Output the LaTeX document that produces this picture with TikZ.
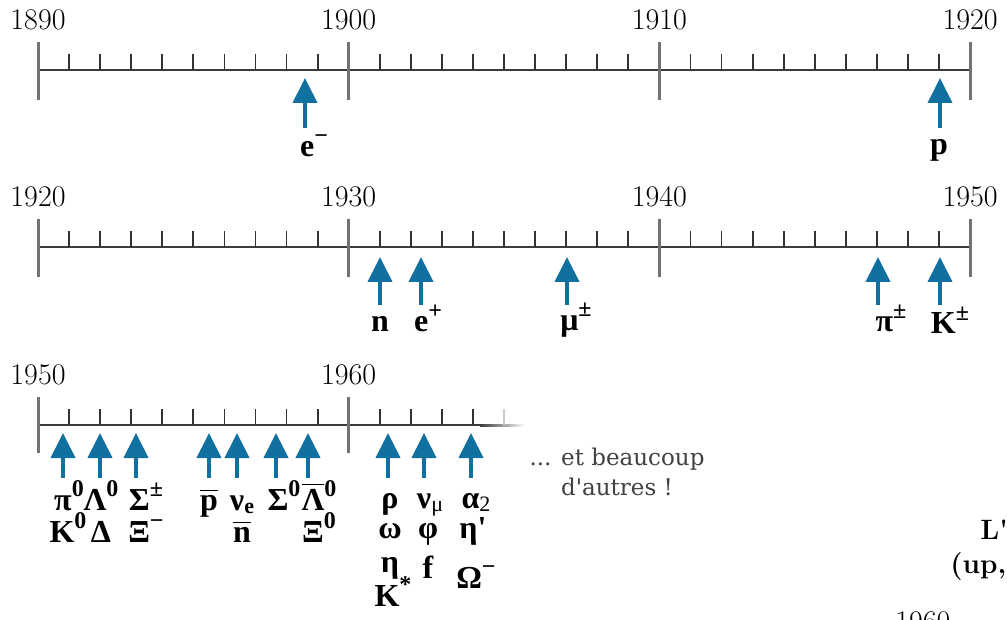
\documentclass[tikz,border=0pt]{standalone}
\usepackage{amsmath,amssymb}
\usepackage{fontspec}
\newfontfamily\partfont{Liberation Serif}
\newfontfamily\notefont{DejaVu Serif}
\usepackage{tikz}
\usetikzlibrary{arrows.meta,positioning}
\definecolor{discblue}{RGB}{16,112,160}
\definecolor{axisgray}{RGB}{60,60,60}
\newcommand{\bartxt}[1]{$\overline{\mbox{#1}}$}
\newcommand{\hiidx}[1]{\raisebox{0.42em}{\fontsize{12}{12}\selectfont #1}}
\newcommand{\loidx}[1]{\raisebox{-0.12em}{\fontsize{11}{11}\selectfont #1}}

\begin{document}
\begin{tikzpicture}[
  x=0.5pt, y=-0.5pt,
  axis/.style={draw=axisgray, line width=1pt},
  major/.style={draw=black!55, line width=1.5pt},
  minor/.style={draw=black!80, line width=0.9pt},
  year/.style={font=\fontsize{15}{15}\selectfont, inner sep=0pt},
  found/.style={draw=discblue, line width=2pt, -{Triangle[width=12pt,length=12.5pt]}},
  part/.style={font=\fontsize{16}{16}\selectfont\partfont\bfseries, inner sep=0pt, anchor=base},
  more/.style={font=\fontsize{11.5}{15}\selectfont\notefont, text=black!75, inner sep=0pt, align=center}
]
\useasboundingbox (0,0) rectangle (1007,620);

% the two full timelines
\foreach \r/\yy/\first in {1/70/1890, 2/247/1920} {
  \draw[axis] (38,\yy) -- (970,\yy);
  \foreach \i in {1,...,29} \draw[minor] (38+31.07*\i,\yy-16) -- +(0,16);
  \foreach \d in {0,1,2,3} {
    \draw[major] (38+310.7*\d,\yy-28) -- +(0,58);
    \pgfmathtruncatemacro\yr{\first+10*\d}
    \node[year] (y\r-\d) at (38+310.7*\d,\yy-50) {\yr};
  }
}

% the last one fades out
\draw[axis] (38,425) -- (480,425);
\shade[left color=axisgray, right color=white] (480,424) rectangle (525,426);
\foreach \i in {1,...,9,11,12,13,14} \draw[minor] (38+31.07*\i,409) -- +(0,16);
\draw[draw=black!20, line width=0.9pt] (38+31.07*15,409) -- +(0,16);
\foreach \d in {0,1} {
  \draw[major] (38+310.7*\d,397) -- +(0,56);
  \pgfmathtruncatemacro\yr{1950+10*\d}
  \node[year] (y3-\d) at (38+310.7*\d,375) {\yr};
}

% 1890-1920
\coordinate (t-e) at (305,78);
\coordinate (t-p) at (940,78);
\node[part] (e) at (314,157) {e\hiidx{−}};
\node[part] (p) at (939,155) {p};
\foreach \t in {e,p} \draw[found] (t-\t) ++(0,50) -- (t-\t);

% 1920-1950
\coordinate (t-n) at (380,257);
\coordinate (t-ep) at (421,257);
\coordinate (t-mu) at (567,257);
\coordinate (t-pi) at (878,257);
\coordinate (t-K) at (940,257);
\node[part] (n) at (380,332) {n};
\node[part] (ep) at (428,332) {e\hiidx{+}};
\node[part] (mu) at (576,330) {μ\hiidx{±}};
\node[part] (pi) at (891,332) {π\hiidx{±}};
\node[part] (K) at (950,334) {K\hiidx{±}};
\foreach \t in {n,ep,mu,pi,K} \draw[found] (t-\t) ++(0,48) -- (t-\t);

% 1950-...
\foreach \t/\x in {a/63, b/100, c/136, d/209, f/237, g/276, h/308, i/388, j/424, k/471}
  \coordinate (t-\t) at (\x,433);
\foreach \t in {a,b,c,d,f,g,h,i,j,k} \draw[found] (t-\t) ++(0,45) -- (t-\t);

\node[part] (pi0) at (69,510) {π\hiidx{0}};
\node[part] (La0) at (101,510) {Λ\hiidx{0}};
\node[part] (Sipm) at (146,510) {Σ\hiidx{±}};
\node[part] (pbar) at (209,510) {\bartxt{p}};
\node[part] (nue) at (242,510) {ν\loidx{e}};
\node[part] (Si0) at (284,510) {Σ\hiidx{0}};
\node[part] (La0bar) at (319,510) {\bartxt{Λ}\hiidx{0}};
\node[part] (K0) at (68,542) {K\hiidx{0}};
\node[part] (De) at (101,542) {Δ};
\node[part] (Xim) at (146,542) {Ξ\hiidx{−}};
\node[part] (nbar) at (242,542) {\bartxt{n}};
\node[part] (Xi0) at (319,542) {Ξ\hiidx{0}};

\node[part] (rho) at (390,508) {ρ};
\node[part] (om) at (390,538) {ω};
\node[part] (eta) at (390,572) {η};
\node[part] (Ks) at (393,606) {K\hiidx{*}};
\node[part] (numu) at (430,508) {ν\loidx{\mdseries μ}};
\node[part] (phi) at (428,538) {φ};
\node[part] (f) at (428,578) {f};
\node[part] (a2) at (476,508) {α\loidx{\mdseries 2}};
\node[part] (etap) at (473,538) {η\textquotesingle};
\node[part] (Om) at (476,588) {Ω\hiidx{−}};

\node[more] (others) at (617,472) {... et beaucoup\\d\textquotesingle autres !};

% cut at the page edge
\node[font=\fontsize{14}{14}\selectfont\bfseries, anchor=west, inner sep=0pt] (lq) at (980,530) {L\textquotesingle};
\node[font=\fontsize{14}{14}\selectfont\bfseries, anchor=west, inner sep=0pt] (up) at (950,567) {(up,};
\node[year, anchor=north west] (y60) at (895,611) {1960};
\end{tikzpicture}
\end{document}
